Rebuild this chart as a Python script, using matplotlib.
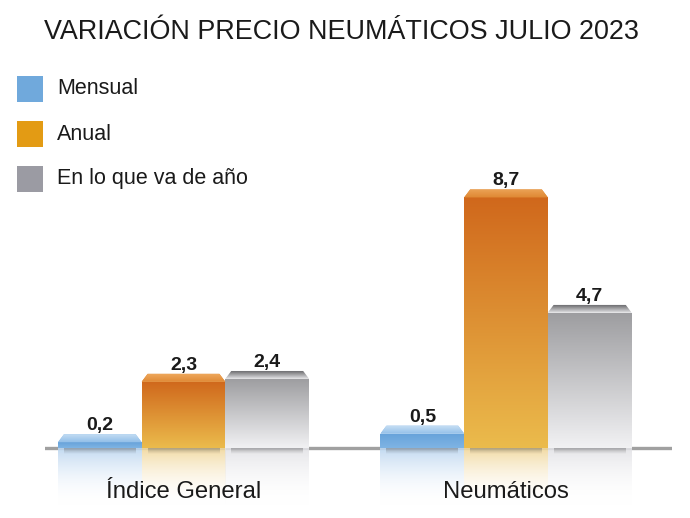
import numpy as np
import matplotlib.pyplot as plt
from matplotlib.colors import to_rgb
from matplotlib.patches import Polygon, Rectangle

plt.rcParams['font.family'] = ['Liberation Sans', 'DejaVu Sans']

# data
categories = ["Índice General", "Neumáticos"]
series = ["Mensual", "Anual", "En lo que va de año"]
mensual = [0.2, 0.5]
anual = [2.3, 8.7]
acumulado = [2.4, 4.7]
values = [mensual, anual, acumulado]

# styles
legend_colors = ["#70a9dc", "#e39b14", "#9b9ba3"]
face_top = ["#66a2da", "#d0681c", "#9d9da0"]
face_bottom = ["#7fb4e4", "#ebbb4c", "#f1f1f3"]
bevel_back = ["#c2dcf3", "#eda65a", "#707073"]
bevel_front = ["#94c0e9", "#e08a36", "#e4e4e6"]
refl_colors = ["#bcd6f0", "#f1d79a", "#e2e2e6"]


def gradient(c_top, c_bottom, n=100, a_top=1.0, a_bottom=1.0):
    t = np.linspace(0, 1, n)[:, None]
    top = np.array(to_rgb(c_top))
    bot = np.array(to_rgb(c_bottom))
    rgb = top * (1 - t) + bot * t
    alpha = a_top * (1 - t) + a_bottom * t
    return np.concatenate([rgb, alpha], axis=1)[:, None, :]


fig = plt.figure(figsize=(6.9, 5.18), dpi=100)
ax = fig.add_axes([45 / 690, 0, 627 / 690, 1])
ax.axis('off')

px = 28.8                # pixels per unit
xlim = (-0.4295, 1.5147)
ylim = (-70 / px, 448 / px)
width = 0.2595
bevel_h = 8 / px
inset = 6 / 322.5
refl_depth = 2.0

ax.axhline(0, color="#a0a0a0", lw=2.4, zorder=1)

x = np.arange(len(categories))
for i, vals in enumerate(values):
    pos = x + (i - 1) * width
    bars = ax.bar(pos, vals, width=width, color=face_top[i], zorder=2,
                  linewidth=0)
    for bar, v in zip(bars, vals):
        x0 = bar.get_x()
        x1 = x0 + bar.get_width()
        # face gradient
        im = ax.imshow(gradient(face_top[i], face_bottom[i]),
                       extent=(x0, x1, 0, v), aspect='auto', zorder=3,
                       interpolation='bilinear')
        im.set_clip_path(bar)
        # bevel on top
        poly = Polygon([(x0, v), (x1, v), (x1 - inset, v + bevel_h),
                        (x0 + inset, v + bevel_h)], closed=True,
                       facecolor=bevel_front[i], edgecolor='none', zorder=3)
        ax.add_patch(poly)
        imb = ax.imshow(gradient(bevel_back[i], bevel_front[i], n=20),
                        extent=(x0, x1, v, v + bevel_h), aspect='auto',
                        zorder=4, interpolation='bilinear')
        imb.set_clip_path(poly)
        # reflection below baseline
        ax.imshow(gradient(refl_colors[i], "#ffffff", a_top=0.9, a_bottom=0.0),
                  extent=(x0, x1, -refl_depth, 0), aspect='auto', zorder=1.5,
                  interpolation='bilinear')
        # shadow under the bar
        ax.imshow(gradient("#5a5a5a", "#5a5a5a", n=20, a_top=0.4, a_bottom=0.0),
                  extent=(x0 + inset, x1 - inset, -6 / px, 0),
                  aspect='auto', zorder=1.6, interpolation='bilinear')
        ax.text((x0 + x1) / 2, v + bevel_h + 4 / px,
                f"{v:.1f}".replace('.', ','), ha='center', va='baseline',
                fontsize=14, fontweight='bold', color="#1a1a1a", zorder=6)

for xi, cat in zip(x, categories):
    ax.text(xi, -44 / px, cat, ha='center', va='center', fontsize=17.2,
            color="#1a1a1a", zorder=6)

ax.set_xlim(*xlim)
ax.set_ylim(*ylim)

# title
fig.text(341 / 690, 1 - 32 / 518, "VARIACIÓN PRECIO NEUMÁTICOS JULIO 2023",
         ha='center', va='center', fontsize=19.4, color="#1a1a1a")

# legend
legend_y = [89, 134.5, 178.5]
for name, col, yc in zip(series, legend_colors, legend_y):
    fig.patches.append(Rectangle((17 / 690, 1 - (yc + 13) / 518), 26 / 690,
                                 26 / 518, transform=fig.transFigure,
                                 facecolor=col, edgecolor='none'))
    fig.text(57 / 690, 1 - yc / 518, name, ha='left', va='center',
             fontsize=15.5, color="#1a1a1a")

fig.savefig("out.png", dpi=100)
